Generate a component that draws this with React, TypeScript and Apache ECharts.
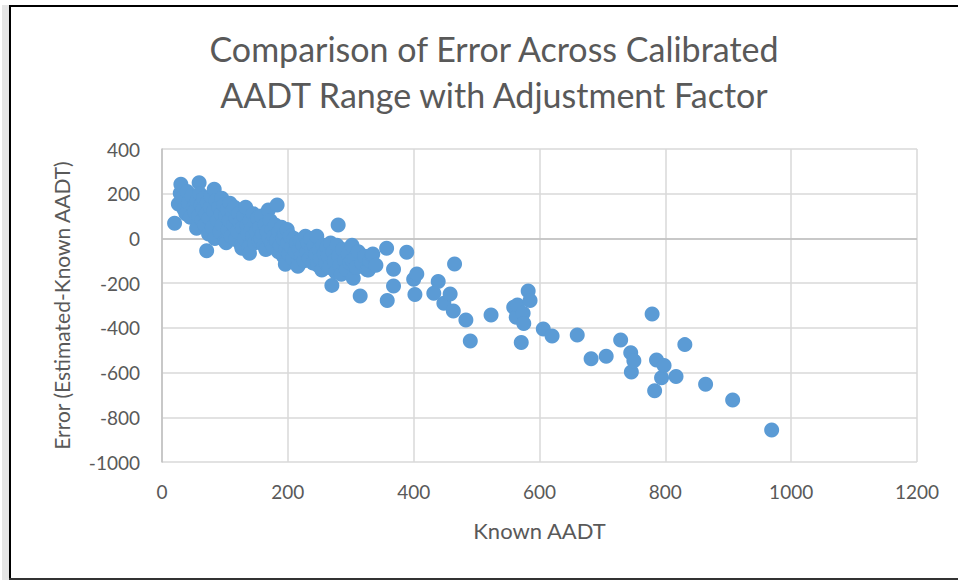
import React, { useEffect, useRef } from "react";
import * as echarts from "echarts";

const titleLines = ["Comparison of Error Across Calibrated", "AADT Range with Adjustment Factor"];
const xAxisName = "Known AADT";
const yAxisName = "Error (Estimated-Known AADT)";
const xTicks = { min: 0, max: 1200, interval: 200 };
const yTicks = { min: -1000, max: 400, interval: 200 };

// [Known AADT, Error]
const clusterPoints: number[][] = [
  [20, 68], [26, 154], [29, 202], [30, 242], [32, 180], [35, 130], [38, 110], [40, 210], [42, 160], [45, 95],
  [48, 190], [50, 140], [52, 120], [55, 45], [56, 170], [58, 100], [59, 249], [60, 200], [62, 150], [64, 80],
  [65, 130], [66, 180], [68, 60], [70, 110], [71, -55], [72, 160], [74, 20], [75, 90], [77, 140], [78, 190],
  [80, 50], [82, 120], [83, 220], [84, 0], [86, 170], [88, 80], [90, 140], [92, 30], [94, 110], [95, 180],
  [96, 60], [98, 150], [100, -10], [101, 100], [102, -19], [104, 130], [105, 40], [107, 80], [108, 157], [110, 10],
  [112, 120], [114, 60], [115, 140], [117, -5], [118, 90], [120, 30], [122, 110], [124, 70], [126, -30], [127, -44],
  [128, 50], [130, 100], [131, 0], [133, 140], [135, 60], [136, 20], [138, -40], [139, -66], [140, 80], [142, 40],
  [144, 10], [145, 110], [147, -20], [148, 70], [150, 30], [152, 90], [154, -10], [155, 50], [157, 0], [158, 100],
  [160, 20], [162, -30], [164, 60], [165, -50], [167, 30], [169, 127], [170, 0], [172, 80], [174, -20], [175, 40],
  [177, -40], [178, 10], [180, 60], [182, -10], [183, 150], [185, -60], [186, 30], [188, -30], [190, 50], [192, 0],
  [193, -80], [195, 20], [196, -115], [197, -50], [199, 40], [200, -20], [202, -70], [204, 10], [206, -40], [208, -90],
  [210, 0], [212, -60], [214, -20], [216, -125], [218, -50], [220, -10], [222, -80], [224, -30], [226, -100], [228, 10],
  [230, -60], [232, -20], [234, -90], [236, 0], [238, -50], [240, -110], [242, -30], [244, -70], [246, 10], [248, -120],
  [250, -50], [252, -90], [254, -141], [256, -30], [258, -70], [260, -110], [262, -40], [264, -80], [266, -130], [268, -20],
  [270, -210], [272, -60], [274, -100], [276, -150], [278, -30], [280, 60], [281, -80], [283, -120], [285, -160], [287, -50],
  [290, -100], [293, -140], [296, -70], [299, -110], [302, -30], [302, -96], [304, -178], [306, -90], [309, -130], [312, -60],
  [315, -258], [318, -110], [322, -80], [326, -140], [328, -141], [330, -100], [334, -74], [335, -70], [340, -120],
];

const midPoints: number[][] = [
  [357, -44], [358, -278], [368, -138], [368, -213], [389, -62], [400, -183], [402, -251], [405, -159],
  [432, -245], [439, -193], [448, -290], [458, -249], [463, -325], [465, -114], [483, -365], [490, -459],
  [523, -343], [559, -308], [563, -353], [565, -298], [571, -465], [574, -335], [575, -380], [582, -235], [585, -278],
];

const highPoints: number[][] = [
  [606, -405], [620, -436], [660, -432], [682, -538], [706, -527], [729, -454], [745, -511], [746, -597],
  [750, -547], [779, -338], [783, -681], [786, -544], [794, -623], [798, -568], [817, -618], [831, -475],
  [864, -652], [907, -723], [969, -857],
];

const points = [...clusterPoints, ...midPoints, ...highPoints];

const FONT = "Lato, 'Open Sans', sans-serif";
const TEXT = "#595959";

export default function App() {
  const ref = useRef<HTMLDivElement>(null);
  useEffect(() => {
    if (!ref.current) return;
    const chart = echarts.init(ref.current, null, { renderer: "svg" });
    chart.setOption({
      animation: false,
      backgroundColor: "#ffffff",
      title: {
        text: titleLines.join("\n"),
        left: 489,
        textAlign: "center",
        top: 20,
        textStyle: { fontFamily: FONT, fontSize: 34, fontWeight: "normal", color: TEXT, lineHeight: 46 },
      },
      grid: { left: 162, top: 149, right: 41, bottom: 120, containLabel: false },
      xAxis: {
        type: "value",
        min: xTicks.min,
        max: xTicks.max,
        interval: xTicks.interval,
        name: xAxisName,
        nameLocation: "middle",
        nameGap: 57,
        nameTextStyle: { fontFamily: FONT, fontSize: 22, color: TEXT },
        axisLine: { show: false, onZero: false },
        axisTick: { show: false },
        axisLabel: { fontFamily: FONT, fontSize: 19, color: TEXT, margin: 20, formatter: (v: number) => String(v) },
        splitLine: { show: true, lineStyle: { color: "#d9d9d9", width: 1.5 } },
      },
      yAxis: {
        type: "value",
        min: yTicks.min,
        max: yTicks.max,
        interval: yTicks.interval,
        name: yAxisName,
        nameLocation: "middle",
        nameGap: 90,
        nameTextStyle: { fontFamily: FONT, fontSize: 21, color: TEXT },
        axisLine: { show: true, onZero: false, lineStyle: { color: "#bfbfbf", width: 1.5 } },
        axisTick: { show: false },
        axisLabel: { fontFamily: FONT, fontSize: 19, color: TEXT, margin: 22, formatter: (v: number) => String(v) },
        splitLine: { show: true, lineStyle: { color: "#d9d9d9", width: 1.5 } },
      },
      graphic: [
        { type: "rect", shape: { x: 2, y: 5, width: 7, height: 575 }, style: { fill: "#e6e6e6" }, silent: true },
        { type: "rect", shape: { x: 9, y: 5, width: 949, height: 2 }, style: { fill: "#000000" }, silent: true },
        { type: "rect", shape: { x: 9, y: 5, width: 2, height: 575 }, style: { fill: "#000000" }, silent: true },
        { type: "rect", shape: { x: 9, y: 578, width: 949, height: 2 }, style: { fill: "#333333" }, silent: true },
      ],
      series: [
        {
          type: "scatter",
          data: points,
          symbol: "circle",
          symbolSize: 15,
          itemStyle: { color: "#5b9bd5", opacity: 1 },
          markLine: {
            silent: true,
            symbol: "none",
            label: { show: false },
            lineStyle: { color: "#bfbfbf", width: 1.5, type: "solid" },
            data: [{ yAxis: 0 }],
            z: 1,
          },
          z: 3,
        },
      ],
    });
    return () => chart.dispose();
  }, []);
  return <div ref={ref} style={{ position: "fixed", left: 0, top: 0, width: 958, height: 582 }} />;
}
